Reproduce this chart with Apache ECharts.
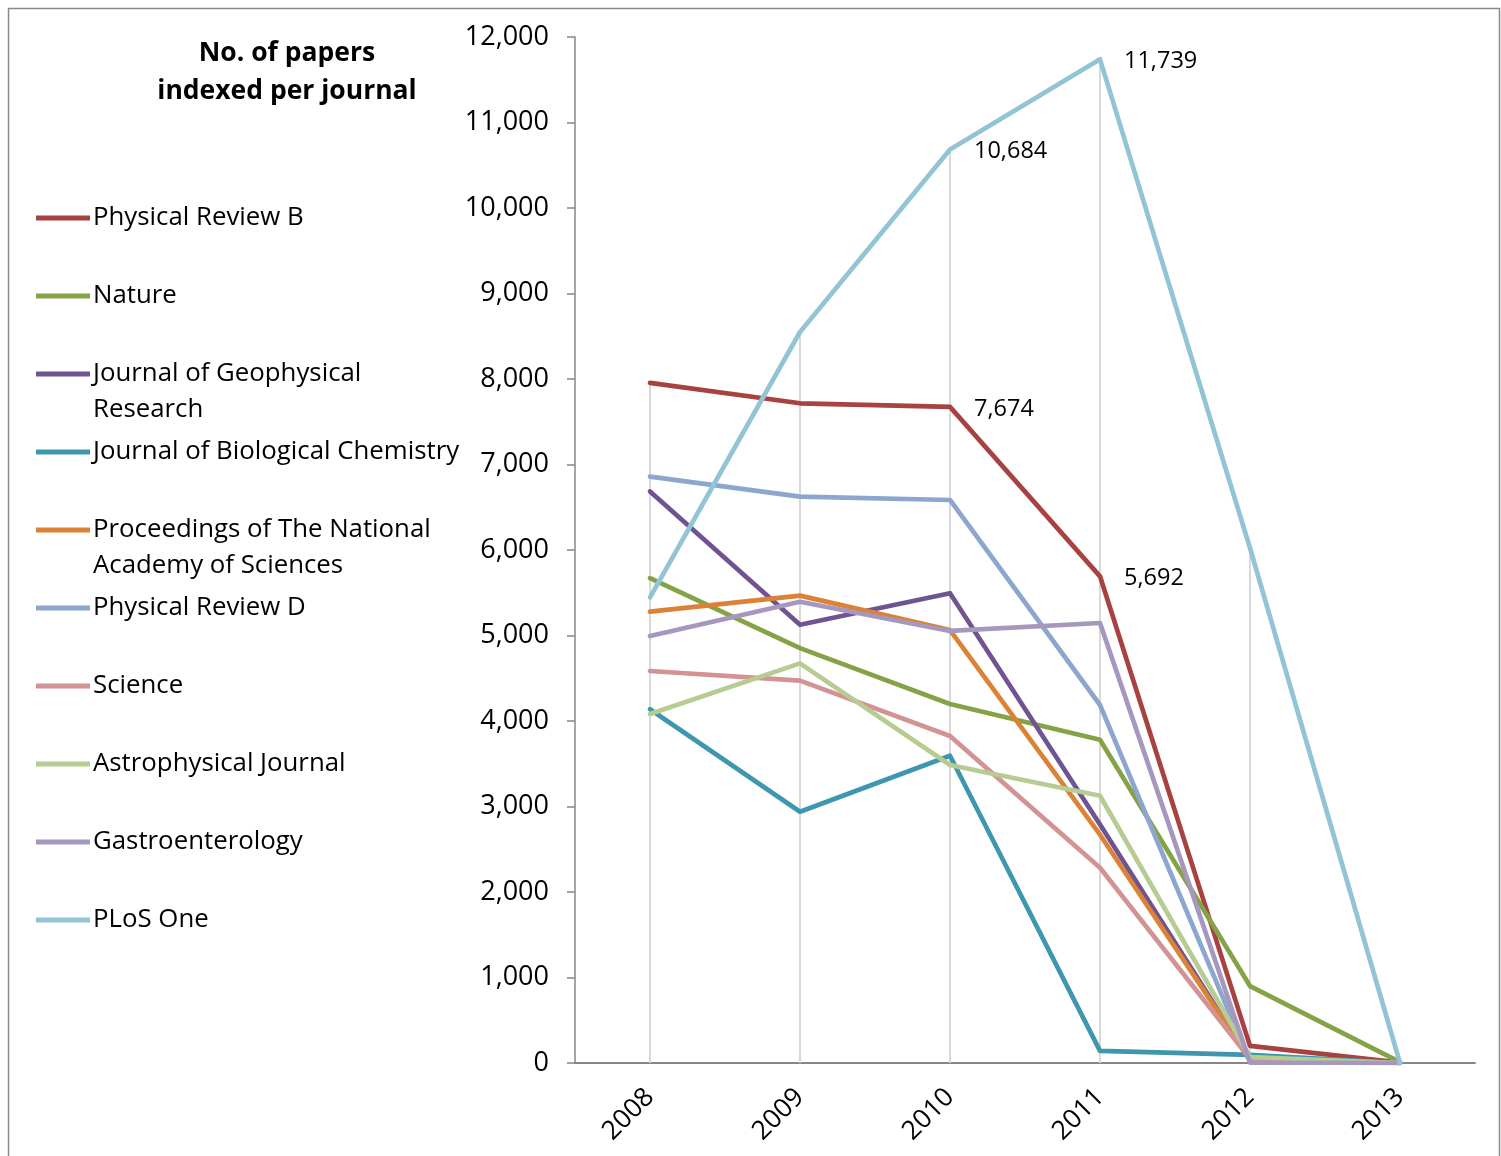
<!DOCTYPE html>
<html>
<head>
<meta charset="utf-8">
<script src="https://cdn.jsdelivr.net/npm/echarts@6/dist/echarts.min.js"></script>
<style>html,body{margin:0;padding:0;background:#fff;}#c{width:1501px;height:1156px;}</style>
</head>
<body>
<div id="c"></div>
<script>
const years = ['2008', '2009', '2010', '2011', '2012', '2013'];
const yTicks = [0, 12000, 1000];
const names = ['Physical Review B', 'Nature', 'Journal of Geophysical Research', 'Journal of Biological Chemistry',
  'Proceedings of The National Academy of Sciences', 'Physical Review D', 'Science', 'Astrophysical Journal',
  'Gastroenterology', 'PLoS One'];
const legendText = ['Physical Review B', 'Nature', 'Journal of Geophysical\nResearch', 'Journal of Biological Chemistry',
  'Proceedings of The National\nAcademy of Sciences', 'Physical Review D', 'Science', 'Astrophysical Journal',
  'Gastroenterology', 'PLoS One'];
const physRevB = [7955, 7716, 7674, 5692, 200, 5];
const nature = [5670, 4852, 4199, 3780, 900, 10];
const jGeophysRes = [6685, 5125, 5495, 2790, 30, 0];
const jBiolChem = [4137, 2939, 3594, 142, 95, 0];
const pnas = [5279, 5466, 5064, 2670, 40, 0];
const physRevD = [6858, 6624, 6585, 4187, 10, 0];
const science = [4585, 4472, 3825, 2283, 50, 0];
const astrophysJ = [4082, 4674, 3485, 3126, 70, 0];
const gastro = [4994, 5395, 5053, 5146, 5, 0];
const plosOne = [5446, 8550, 10684, 11739, 6023, 0];
const labelled = { 0: [2, 3], 9: [2, 3] };

const allData = [physRevB, nature, jGeophysRes, jBiolChem, pnas, physRevD, science, astrophysJ, gastro, plosOne];
const colors = ['#A84240', '#84A346', '#6F5491', '#3E97AF', '#DC8236', '#8CA6CE', '#D39293', '#B6CC92', '#A597BE', '#92C4D6'];
const FONT = 'Open Sans';

const dropMax = years.map((_, i) => Math.max(...allData.map(d => d[i])));

const series = [{
  name: 'drop',
  type: 'bar',
  data: dropMax,
  barWidth: 2,
  itemStyle: { color: '#d9d9d9' },
  silent: true,
  z: 1
}];
allData.forEach((d, si) => {
  const lab = labelled[si] || [];
  series.push({
    name: names[si],
    type: 'line',
    symbol: 'circle',
    symbolSize: 0,
    showSymbol: true,
    lineStyle: { color: colors[si], width: 4.7, cap: 'round', join: 'round' },
    itemStyle: { color: colors[si] },
    z: 2 + si,
    data: d.map((v, i) => lab.includes(i) ? {
      value: v,
      label: {
        show: true, position: 'right', distance: 24, offset: [0, 2],
        formatter: p => p.value.toLocaleString('en-US'),
        fontFamily: FONT, fontSize: 23.5, color: '#000'
      }
    } : v)
  });
});

const centers = [216, 294, 372, 450, 528, 606, 684, 762, 840, 918];
const legends = names.map((n, i) => {
  const multi = legendText[i].includes('\n');
  return {
    data: [n],
    left: 36,
    top: centers[i] + 2 - (multi ? 54 : 18),
    padding: 0,
    itemWidth: 54,
    itemHeight: 14,
    icon: 'path://M0,0 L54,0 L54,5 L0,5 Z',
    selectedMode: false,
    formatter: () => multi ? '\n' + legendText[i] : legendText[i],
    textStyle: { fontFamily: FONT, fontSize: 25.8, lineHeight: 36, color: '#000', padding: [0, 0, 0, -2] }
  };
});

const chart = echarts.init(document.getElementById('c'));
chart.setOption({
  animation: false,
  backgroundColor: '#fff',
  grid: { left: 575, right: 26, top: 37, bottom: 93 },
  legend: legends,
  graphic: [
    { type: 'rect', shape: { x: 8.5, y: 8.5, width: 1491, height: 1160 }, style: { fill: 'none', stroke: '#8a8a8a', lineWidth: 1.5 }, silent: true },
    { type: 'text', x: 287, y: 34, style: { text: 'No. of papers\nindexed per journal', fontFamily: FONT, fontWeight: 'bold', fontSize: 26.5, lineHeight: 38, align: 'center', fill: '#000' } }
  ],
  xAxis: {
    type: 'category',
    data: years,
    boundaryGap: true,
    axisLine: { lineStyle: { color: '#868686', width: 2 } },
    axisTick: { show: false },
    axisLabel: { rotate: 45, margin: 30, fontFamily: FONT, fontSize: 26.5, color: '#000' },
    splitLine: { show: false }
  },
  yAxis: {
    type: 'value',
    min: yTicks[0], max: yTicks[1], interval: yTicks[2],
    axisLine: { show: true, lineStyle: { color: '#868686', width: 1.5 } },
    axisTick: { show: true, length: 8, lineStyle: { color: '#868686', width: 1.5 } },
    axisLabel: { margin: 26, padding: [4, 0, 0, 0], fontFamily: FONT, fontSize: 27, color: '#000', formatter: v => v.toLocaleString('en-US') },
    splitLine: { show: false }
  },
  series: series
});
</script>
</body>
</html>
